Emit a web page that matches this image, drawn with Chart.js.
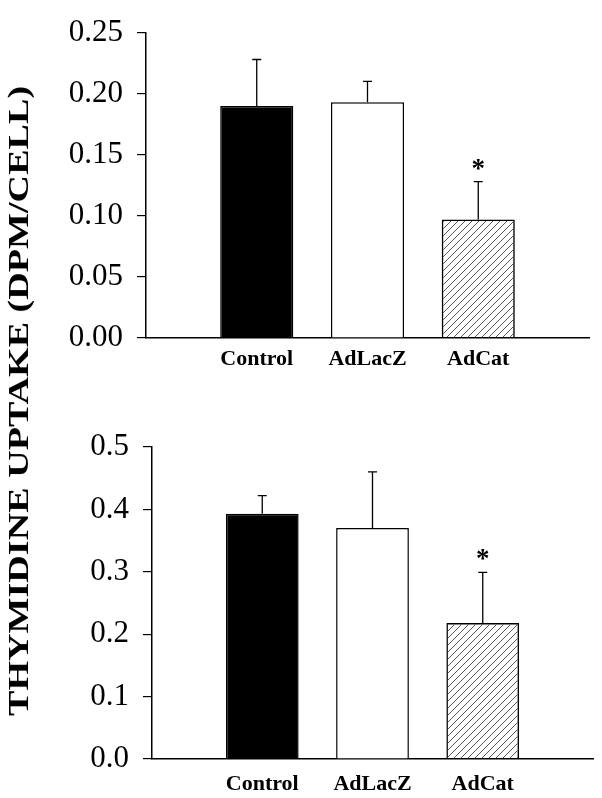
<!DOCTYPE html>
<html><head><meta charset="utf-8">
<script src="https://cdn.jsdelivr.net/npm/chart.js@4.4.0/dist/chart.umd.min.js"></script>
<style>
html,body{margin:0;padding:0;background:#fff;width:602px;height:798px;overflow:hidden;}
#wrap{position:relative;width:602px;height:798px;}
canvas{position:absolute;left:0;}
#c1{top:0;} #c2{top:400px;}
#ytitle{position:absolute;left:18px;top:401px;font-family:"Liberation Serif","Times New Roman",serif;font-weight:bold;font-size:30px;line-height:1;white-space:nowrap;color:#000;transform:translate(-50%,-50%) rotate(-90deg) scaleX(1.27);}
</style></head>
<body><div id="wrap"><canvas id="c1" width="602" height="400"></canvas><canvas id="c2" width="602" height="398"></canvas><div id="ytitle"></div></div>
<script>
const categories = ['', 'Control', 'AdLacZ', 'AdCat', ''];
const topMeans = [null, 0.190, 0.193, 0.097, null];
const topErrors = [null, 0.038, 0.017, 0.031, null];
const topMarks = ['', '', '', '*', ''];
const topTickLabels = ['0.00', '0.05', '0.10', '0.15', '0.20', '0.25'];
const bottomMeans = [null, 0.393, 0.370, 0.218, null];
const bottomErrors = [null, 0.029, 0.090, 0.081, null];
const bottomMarks = ['', '', '', '*', ''];
const bottomTickLabels = ['0.0', '0.1', '0.2', '0.3', '0.4', '0.5'];
const yTitle = 'THYMIDINE UPTAKE (DPM/CELL)';

document.getElementById('ytitle').textContent = yTitle;

const SERIF = '"Liberation Serif", "Times New Roman", serif';

function hatch() {
  const p = document.createElement('canvas');
  p.width = 7; p.height = 7;
  const c = p.getContext('2d');
  c.strokeStyle = '#444'; c.lineWidth = 0.9;
  c.beginPath();
  c.moveTo(0, 7); c.lineTo(7, 0);
  c.moveTo(-1, 1); c.lineTo(1, -1);
  c.moveTo(6, 8); c.lineTo(8, 6);
  c.stroke();
  return c.createPattern(p, 'repeat');
}

const errPlugin = {
  id: 'err',
  afterDatasetsDraw(chart, args, opts) {
    const ctx = chart.ctx, x = chart.scales.x, y = chart.scales.y;
    ctx.save();
    ctx.strokeStyle = '#000'; ctx.lineWidth = 1.3;
    opts.means.forEach((m, i) => {
      const e = opts.errors[i];
      if (m == null || e == null) return;
      const px = x.getPixelForValue(i), y0 = y.getPixelForValue(m), y1 = y.getPixelForValue(m + e);
      ctx.beginPath();
      ctx.moveTo(px, y0); ctx.lineTo(px, y1);
      ctx.moveTo(px - 4.5, y1); ctx.lineTo(px + 4.5, y1);
      ctx.stroke();
      if (opts.marks[i]) {
        ctx.fillStyle = '#000';
        ctx.font = 'bold 27px ' + SERIF;
        ctx.textAlign = 'center'; ctx.textBaseline = 'alphabetic';
        ctx.fillText(opts.marks[i], px, y1 - 5);
      }
    });
    ctx.restore();
  }
};

function makeChart(id, means, errors, marks, tickLabels, max, step, g) {
  const colors = [null, '#000000', '#ffffff', hatch(), null];
  return new Chart(document.getElementById(id), {
    type: 'bar',
    data: {
      labels: categories,
      datasets: [{
        data: means,
        backgroundColor: colors,
        borderColor: '#000',
        borderWidth: 1.5,
        barPercentage: 1,
        categoryPercentage: 0.66
      }]
    },
    plugins: [errPlugin],
    options: {
      responsive: false,
      animation: false,
      events: [],
      layout: { padding: { left: 0, top: g.padTop, right: g.padRight, bottom: 0 } },
      plugins: {
        legend: { display: false },
        tooltip: { enabled: false },
        err: { means: means, errors: errors, marks: marks }
      },
      scales: {
        x: {
          type: 'category',
          offset: false,
          grid: { display: false },
          border: { display: true, color: '#000', width: 1.5 },
          ticks: { color: '#000', font: { family: SERIF, weight: 'bold', size: 22 }, padding: g.xPad, autoSkip: false, maxRotation: 0 },
          afterFit(s) { s.height = g.xHeight; }
        },
        y: {
          min: 0, max: max,
          ticks: {
            stepSize: step,
            color: '#000',
            font: { family: SERIF, size: 31 },
            padding: 14,
            callback: (v) => tickLabels[Math.round(v / step)]
          },
          grid: { drawOnChartArea: false, drawTicks: true, tickLength: 9, color: '#000', lineWidth: 1.2 },
          border: { display: true, color: '#000', width: 1.5 },
          afterFit(s) { s.width = g.yWidth; }
        }
      }
    }
  });
}

makeChart('c1', topMeans, topErrors, topMarks, topTickLabels, 0.25, 0.05,
  { yWidth: 146, padTop: 24, padRight: 13, xHeight: 62, xPad: 0 });
makeChart('c2', bottomMeans, bottomErrors, bottomMarks, bottomTickLabels, 0.5, 0.1,
  { yWidth: 152, padTop: 47, padRight: 9, xHeight: 39, xPad: 4 });
</script>
</body></html>
